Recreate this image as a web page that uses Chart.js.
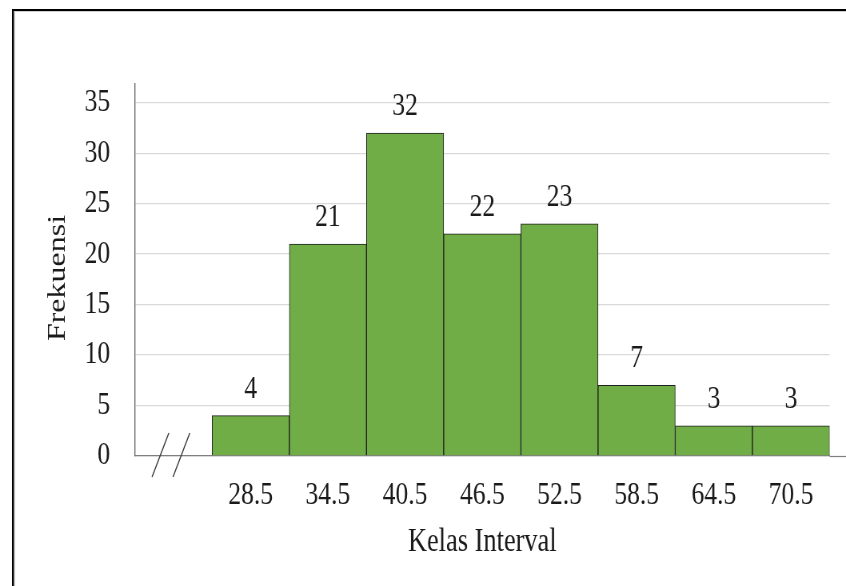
<!DOCTYPE html>
<html>
<head>
<meta charset="utf-8">
<script src="https://cdn.jsdelivr.net/npm/chart.js@4.4.1/dist/chart.umd.min.js"></script>
<style>
  html, body { margin: 0; padding: 0; background: #fff; overflow: hidden; }
  /* Drawn on a wider canvas and squeezed horizontally so the serif text gets its narrow look */
  #wrap { width: 1058px; height: 586px; transform: scaleX(0.79962); transform-origin: 0 0; }
</style>
</head>
<body>
<div id="wrap"><canvas id="c"></canvas></div>
<script>
// Class marks (the first slot is left empty for the axis break)
const categories = ['', '28.5', '34.5', '40.5', '46.5', '52.5', '58.5', '64.5', '70.5'];
// Frequency of each class
const frequencies = [null, 4, 21, 32, 22, 23, 7, 3, 3];
// Labelled values on the frequency axis
const yTicks = [0, 5, 10, 15, 20, 25, 30, 35];
const yMax = 36.9;
const xTitle = 'Kelas Interval';
const yTitle = 'Frekuensi';

const SERIF = "'Liberation Serif', 'Times New Roman', serif";
const TEXT = '#1a1a1a';

const decor = {
  id: 'decor',
  beforeDraw(chart) {
    const { ctx, width, height } = chart;
    ctx.save();
    ctx.fillStyle = '#fff';
    ctx.fillRect(0, 0, width, height);
    // outer frame (left and top edges)
    ctx.fillStyle = '#000';
    ctx.fillRect(15, 9, 2.6, height);
    ctx.fillRect(15, 9, width, 2);
    ctx.fillStyle = '#cfcfcf';
    ctx.fillRect(17.6, 11, 1.4, height);
    ctx.fillRect(17.6, 11, width, 1);
    ctx.restore();
  },
  afterDraw(chart) {
    const { ctx, chartArea, width } = chart;
    const x = chart.scales.x;
    ctx.save();

    // horizontal axis runs on past the last bar
    ctx.strokeStyle = '#7f7f7f';
    ctx.lineWidth = 1.2;
    ctx.beginPath();
    ctx.moveTo(chartArea.right, chartArea.bottom + 0.5);
    ctx.lineTo(width, chartArea.bottom + 0.5);
    ctx.stroke();

    // axis break mark "//" in the empty first slot
    const cx = x.getPixelForValue(0);
    ctx.strokeStyle = '#3a3a3a';
    ctx.lineWidth = 1.4;
    [-16.4, 9.8].forEach(o => {
      ctx.beginPath();
      ctx.moveTo(cx + o - 10.5, chartArea.bottom + 21);
      ctx.lineTo(cx + o + 10.5, chartArea.bottom - 23);
      ctx.stroke();
    });

    // value labels above the bars
    ctx.fillStyle = TEXT;
    ctx.font = '32px ' + SERIF;
    ctx.textAlign = 'center';
    ctx.textBaseline = 'alphabetic';
    const meta = chart.getDatasetMeta(0);
    meta.data.forEach((bar, i) => {
      const v = frequencies[i];
      if (v == null) return;
      ctx.fillText(String(v), bar.x, bar.y - 18);
    });

    // axis titles
    ctx.font = '33px ' + SERIF;
    ctx.fillText(xTitle, (chartArea.left + chartArea.right) / 2, 551);
    ctx.translate(73, 278);
    ctx.rotate(-Math.PI / 2);
    ctx.font = '32px ' + SERIF;
    ctx.textBaseline = 'middle';
    ctx.fillText(yTitle, 0, 0);
    ctx.restore();
  }
};

new Chart(document.getElementById('c'), {
  type: 'bar',
  data: {
    labels: categories,
    datasets: [{
      data: frequencies,
      backgroundColor: '#70AD47',
      borderColor: '#1f1f1f',
      borderWidth: 1,
      barPercentage: 1,
      categoryPercentage: 1
    }]
  },
  options: {
    responsive: true,
    maintainAspectRatio: false,
    animation: false,
    layout: { padding: { left: 0, top: 83.5, right: 20.5, bottom: 0 } },
    plugins: { legend: { display: false }, tooltip: { enabled: false } },
    scales: {
      x: {
        grid: { display: false, drawTicks: false },
        border: { display: true, color: '#7f7f7f', width: 1.2 },
        ticks: {
          autoSkip: false, maxRotation: 0, padding: 20,
          color: TEXT, font: { family: SERIF, size: 32 }
        },
        afterFit(scale) { scale.height = 130; }
      },
      y: {
        min: 0,
        max: yMax,
        afterBuildTicks(scale) { scale.ticks = yTicks.map(v => ({ value: v })); },
        grid: { color: '#d9d9d9', lineWidth: 1.3, drawTicks: false },
        border: { display: true, color: '#6e6e6e', width: 1.4 },
        ticks: {
          padding: 31,
          color: TEXT, font: { family: SERIF, size: 32 }
        },
        afterFit(scale) { scale.width = 168.75; }
      }
    }
  },
  plugins: [decor]
});
</script>
</body>
</html>
